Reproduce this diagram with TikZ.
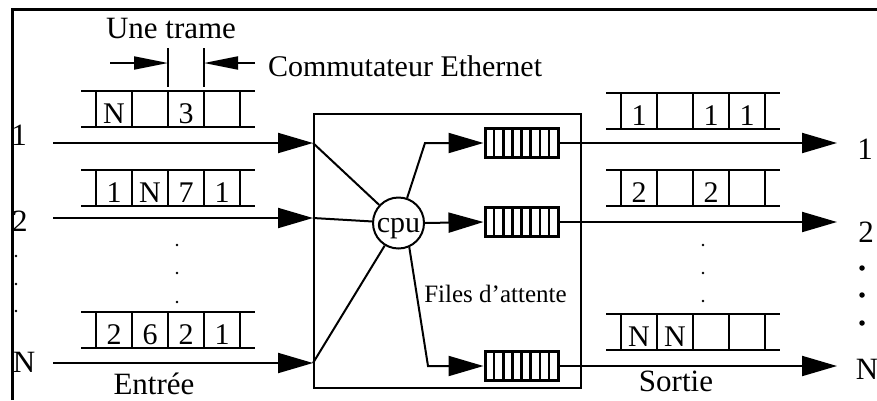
\documentclass[tikz,border=0pt]{standalone}
\usepackage{fontspec}
\setmainfont{Liberation Serif}
\usetikzlibrary{arrows.meta,calc}

\begin{document}
\begin{tikzpicture}[x=1pt,y=-1pt,line width=2pt,
  txt/.style={font=\fontsize{31}{33}\selectfont,inner sep=0pt},
  small/.style={font=\fontsize{25}{27}\selectfont,inner sep=0pt},
  cell/.style={font=\fontsize{30}{32}\selectfont,inner sep=0pt,anchor=base},
  arr/.style={-{Triangle[length=35pt,width=20pt]}},
  dimarr/.style={-{Triangle[length=34pt,width=13pt]}},
  queue/.style={draw,line width=3pt,minimum width=73pt,minimum height=29pt,inner sep=0pt,
    path picture={
      \foreach \i in {1,...,7}
        \draw[line width=2.5pt]
          ($(path picture bounding box.south west)+(\i*9.125,0)$) --
          ($(path picture bounding box.north west)+(\i*9.125,0)$);
    }},
  smalldot/.style={circle,fill,inner sep=0pt,minimum size=2.6pt},
  bigdot/.style={circle,fill,inner sep=0pt,minimum size=5.5pt},
  pics/trame/.style n args={4}{code={
    \draw (-87,-18) -- (87,-18) (-87,18) -- (87,18);
    \foreach \dx in {-72,-36,0,36,72} \draw (\dx,-18) -- (\dx,18);
    \node[cell] (-a) at (-54,14) {#1};
    \node[cell] (-b) at (-18,14) {#2};
    \node[cell] (-c) at (18,14) {#3};
    \node[cell] (-d) at (54,14) {#4};
  }}]
\useasboundingbox (0,0) rectangle (877,400);

% outer frame (top and left edges)
\draw[line width=3pt] (12,400) -- (12,9) -- (877,9);

% frame width marker
\node[txt,anchor=base] (unetrame) at (171,38) {Une trame};
\node[txt,anchor=base west,font=\fontsize{30}{32}\selectfont] (commut) at (267,76) {Commutateur Ethernet};
\coordinate (tkA1) at (168,48);
\coordinate (tkA2) at (168,87);
\coordinate (tkB1) at (204,48);
\coordinate (tkB2) at (204,87);
\draw (tkA1) -- (tkA2);
\draw (tkB1) -- (tkB2);
\coordinate (dA) at (110,63);
\coordinate (dAt) at (168,63);
\coordinate (dB) at (255,63);
\coordinate (dBt) at (204,63);
\draw[dimarr] (dA) -- (dAt);
\draw[dimarr] (dB) -- (dBt);

% input frames
\pic (in1f) at (168,109) {trame={N}{}{3}{}};
\pic (in2f) at (168,188) {trame={1}{N}{7}{1}};
\pic (inNf) at (168,330) {trame={2}{6}{2}{1}};

% output frames
\pic (out1f) at (693,111) {trame={1}{}{1}{1}};
\pic (out2f) at (693,188) {trame={2}{}{2}{}};
\pic (outNf) at (693,332) {trame={N}{N}{}{}};

% switch box
\node[draw,inner sep=0pt,minimum width=267pt,minimum height=274pt,anchor=north west]
  (box) at (313,113) {};

% cpu and queues
\node[draw,circle,inner sep=0pt,minimum size=51pt,font=\fontsize{30}{32}\selectfont]
  (cpu) at (398.5,223) {};
\node[anchor=base,inner sep=0pt,font=\fontsize{30}{32}\selectfont] (cpulbl) at (398.5,232) {cpu};
\node[queue] (q1) at (521.5,143) {};
\node[queue] (q2) at (521.5,222) {};
\node[queue] (qN) at (521.5,366) {};
\node[small,anchor=base] (files) at (495.5,302) {Files d'attente};

% inputs
\coordinate (a1) at (53,143);
\coordinate (a2) at (53,218);
\coordinate (aN) at (53,363);
\coordinate (e1) at (box.west |- a1);
\coordinate (e2) at (box.west |- a2);
\coordinate (eN) at (box.west |- aN);
\draw[arr] (a1) -- (e1);
\draw[arr] (a2) -- (e2);
\draw[arr] (aN) -- (eN);
\draw (e1) -- (cpu);
\draw (e2) -- (cpu);
\draw (eN) -- (cpu);

% cpu to queues
\coordinate (b1) at (425,143);
\coordinate (bN) at (428,366);
\draw[arr] (cpu.71) -- (b1) -- (q1.west);
\draw[arr] (cpu.east) -- (q2.west);
\draw[arr] (cpu.-66) -- (bN) -- (qN.west);

% outputs
\coordinate (o1) at (837,143);
\coordinate (o2) at (837,222);
\coordinate (oN) at (837,366);
\draw[arr] (q1.east) -- (o1);
\draw[arr] (q2.east) -- (o2);
\draw[arr] (qN.east) -- (oN);

% port labels
\node[txt] (lin1) at (19,135) {1};
\node[txt] (lin2) at (20,221) {2};
\node[txt] (linN) at (24,362) {N};
\node[txt] (lout1) at (865,149) {1};
\node[txt] (lout2) at (866,232) {2};
\node[txt] (loutN) at (867,369) {N};
\node[txt,anchor=base] (entree) at (154,394) {Entrée};
\node[txt,anchor=base] (sortie) at (676,391) {Sortie};

% ellipsis dots
\foreach \y [count=\k] in {256,284,311} \node[smalldot] (ld\k) at (16,\y) {};
\foreach \y [count=\k] in {245,273,302} \node[smalldot] (md\k) at (177,\y) {};
\foreach \y [count=\k] in {245,273,301} \node[smalldot] (rd\k) at (703,\y) {};
\foreach \y [count=\k] in {268,295,323} \node[bigdot] (od\k) at (862,\y) {};
\end{tikzpicture}
\end{document}
